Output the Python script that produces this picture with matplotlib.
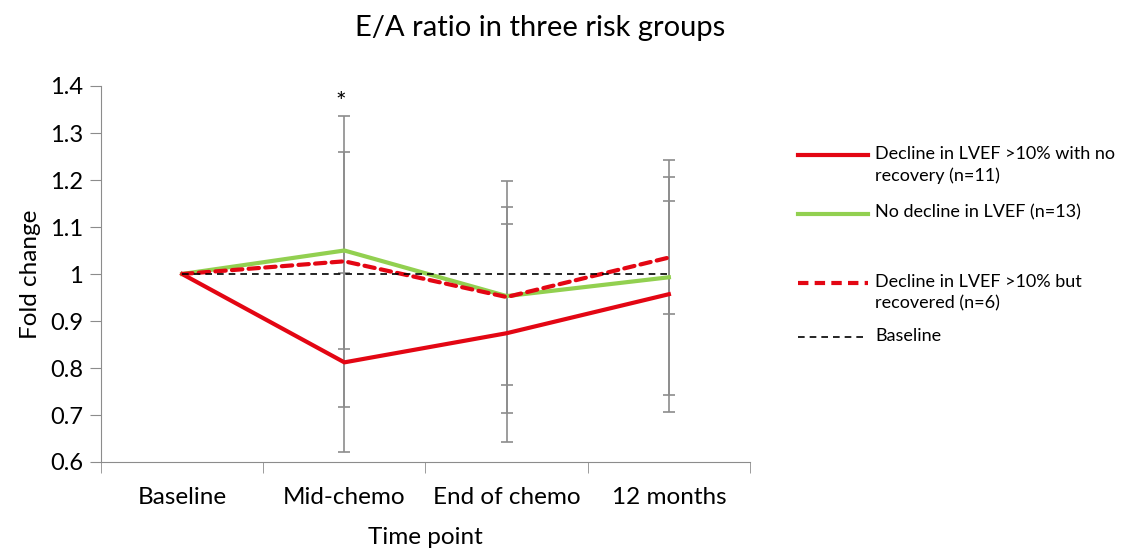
#!/usr/bin/env python3
""" E/A ratio line chart """
import numpy as np
import matplotlib.pyplot as plt
from matplotlib.lines import Line2D

plt.rcParams['font.family'] = ['Lato', 'DejaVu Sans']

time_points = ['Baseline', 'Mid-chemo', 'End of chemo', '12 months']
no_recovery = [1.0, 0.812, 0.874, 0.957]
no_recovery_err = [0.0, 0.19, 0.232, 0.25]
no_decline = [1.0, 1.05, 0.953, 0.993]
no_decline_err = [0.0, 0.21, 0.19, 0.25]
recovered = [1.0, 1.027, 0.951, 1.035]
recovered_err = [0.0, 0.309, 0.247, 0.12]
baseline = [1.0, 1.0, 1.0, 1.0]

legend_labels = ['Decline in LVEF >10% with no\nrecovery (n=11)',
                 'No decline in LVEF (n=13)',
                 'Decline in LVEF >10% but\nrecovered (n=6)',
                 'Baseline']

RED = '#e30613'
GREEN = '#92d050'
GRAY = '#8c8c8c'

fig = plt.figure(figsize=(11.32, 5.52), dpi=100)
ax = fig.add_axes([101 / 1132, 1 - 462 / 552, 649 / 1132, 376 / 552])
x = np.arange(len(time_points))

err_kw = dict(fmt='none', ecolor=GRAY, elinewidth=1.2, capsize=4.5,
              capthick=1.2, zorder=1)
ax.errorbar(x[1:], no_recovery[1:], yerr=no_recovery_err[1:], **err_kw)
ax.errorbar(x[1:], no_decline[1:], yerr=no_decline_err[1:], **err_kw)
ax.errorbar(x[1:], recovered[1:], yerr=recovered_err[1:], **err_kw)

ax.plot(x, no_recovery, color=RED, lw=3, zorder=3)
ax.plot(x, no_decline, color=GREEN, lw=3, zorder=3)
ax.plot(x, recovered, color=RED, lw=3, ls=(0, (2.5, 1.5)),
        dash_capstyle='round', zorder=4)
ax.plot(x, baseline, color='black', lw=1.2, ls=(0, (4, 3)), zorder=5)

ax.text(x[1] - 0.02, 1.365, '*', ha='center', va='center', fontsize=18)

ax.set_xlim(-0.5, len(time_points) - 0.5)
ax.set_ylim(0.6, 1.4)
ax.set_yticks(np.arange(0.6, 1.41, 0.1))
ax.set_yticklabels(['0.6', '0.7', '0.8', '0.9', '1', '1.1', '1.2', '1.3',
                    '1.4'])
ax.set_xticks(x)
ax.set_xticklabels(time_points)
ax.set_xticks(np.arange(-0.5, len(time_points), 1.0), minor=True)
ax.tick_params(axis='x', which='major', length=0, pad=18, labelsize=17.5)
ax.tick_params(axis='x', which='minor', length=8, color=GRAY)
ax.tick_params(axis='y', length=8, color=GRAY, labelsize=17, pad=5)
for side in ['top', 'right']:
    ax.spines[side].set_visible(False)
for side in ['left', 'bottom']:
    ax.spines[side].set_color(GRAY)

ax.set_xlabel('Time point', fontsize=17.5, labelpad=14)
ax.set_ylabel('Fold change', fontsize=17.5, labelpad=6)
fig.text(540 / 1132, 1 - 28 / 552, 'E/A ratio in three risk groups',
         ha='center', va='center', fontsize=21)

# legend drawn by hand to keep Excel spacing
handles = [dict(color=RED, lw=3, ls='-'),
           dict(color=GREEN, lw=3, ls='-'),
           dict(color=RED, lw=3, ls=(0, (2.5, 1.5))),
           dict(color='black', lw=1.2, ls=(0, (4, 3)))]
rows = [155, 214, 283, 337]
for h, lab, row in zip(handles, legend_labels, rows):
    yy = 1 - row / 552
    fig.add_artist(Line2D([798 / 1132, 868 / 1132], [yy, yy],
                          transform=fig.transFigure, **h))
    fig.text(875 / 1132, yy + 0.017, lab, ha='left', va='top',
             fontsize=13, linespacing=1.45)

fig.savefig('out.png', dpi=100)
